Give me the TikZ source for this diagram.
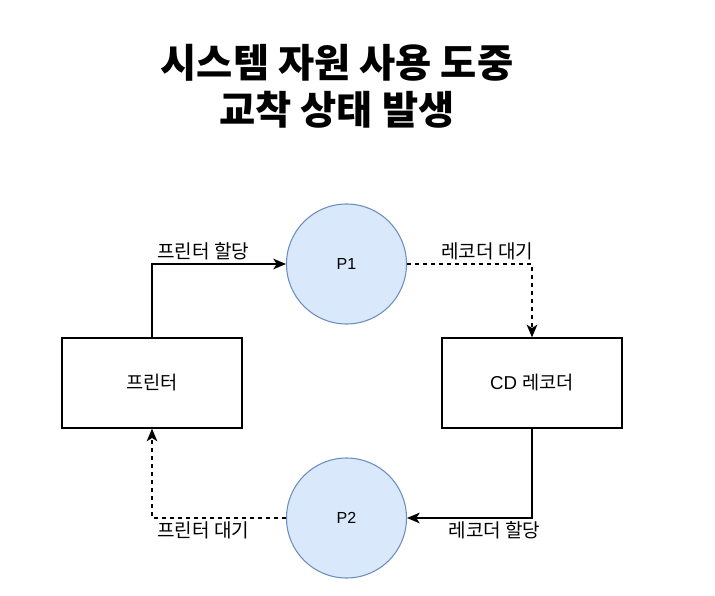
\documentclass[tikz,border=0pt]{standalone}
\usepackage{fontspec}
\setmainfont{Liberation Sans}
\newfontfamily\krfont{Noto Sans CJK KR}
\usetikzlibrary{arrows.meta}
\definecolor{procfill}{HTML}{DAE8FC}
\definecolor{procdraw}{HTML}{6C8EBF}
\begin{document}
\begin{tikzpicture}[x=0.75pt, y=-0.75pt,
	proc/.style = {circle, draw=procdraw, fill=procfill, line width=0.8pt, minimum size=90pt, inner sep=0pt, font=\fontsize{12}{15}\selectfont},
	res/.style = {rectangle, draw, line width=1pt, minimum width=135pt, minimum height=67.5pt, inner sep=0pt, font=\fontsize{14}{16}\selectfont},
	lbl/.style = {font=\krfont\fontsize{14.3}{16}\selectfont, inner sep=2.5pt},
	held/.style = {line width=1pt, -{Stealth[length=9.5pt, width=8pt, inset=2.5pt]}},
	wait/.style = {held, dash pattern=on 3pt off 3pt}]
	\useasboundingbox (0,0) rectangle (715,596);
	\node[align=center, font=\krfont\bfseries\fontsize{29.5}{35}\selectfont] (title) at (337,86) {시스템 자원 사용 도중\\교착 상태 발생};
	\node[proc] (p1) at (346.5,264) {P1};
	\node[proc] (p2) at (346.5,518) {P2};
	\node[res] (printer) at (152,383) {\krfont 프린터};
	\node[res] (recorder) at (532,383) {CD {\krfont 레코더}};
	\draw[held] (printer.north) |- (p1.west) node[lbl, pos=0.5, above right, xshift=1pt] (l1) {프린터 할당};
	\draw[wait] (p1.east) -| (recorder.north) node[lbl, pos=0.5, above left, xshift=4pt] (l2) {레코더 대기};
	\draw[held] (recorder.south) |- (p2.east) node[lbl, pos=0.65, below] (l3) {레코더 할당};
	\draw[wait] (p2.west) -| (printer.south) node[lbl, pos=0.5, below right, xshift=1pt] (l4) {프린터 대기};
\end{tikzpicture}
\end{document}
